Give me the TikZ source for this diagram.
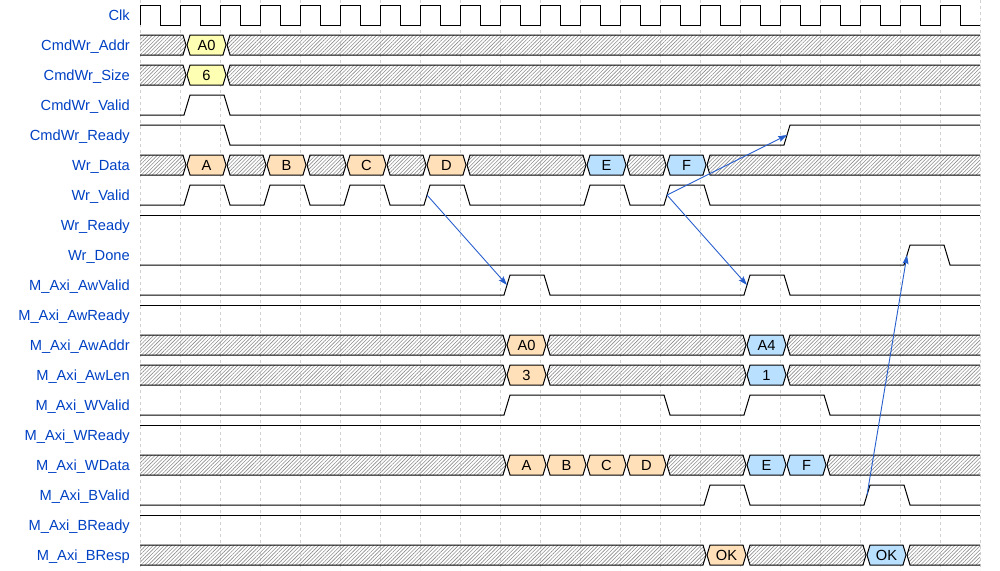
\documentclass[tikz,border=0pt]{standalone}
\usepackage{fontspec}
\setmainfont{Liberation Sans}
\usetikzlibrary{arrows.meta,patterns.meta}

\definecolor{sigblue}{HTML}{0041C4}
\definecolor{datayellow}{HTML}{FFFFB4}
\definecolor{dataorange}{HTML}{FFE0B9}
\definecolor{datablue}{HTML}{B9E0FF}

% bus segment helpers: #1 row centre, #2 start, #3 end
\newcommand{\segends}[2]{%
  \pgfmathsetmacro{\segl}{#1==140 ? 130 : #1+7}%
  \pgfmathsetmacro{\segcl}{#1==140 ? 130 : #1+10}%
  \pgfmathsetmacro{\segcr}{#2==980 ? 990 : #2+3}%
  \pgfmathsetmacro{\segr}{#2==980 ? 990 : #2+6}%
}
\newcommand{\hatchseg}[3]{%
  \segends{#2}{#3}%
  \draw[wave, hatch] (\segl,#1) -- (\segcl,#1-10) -- (\segcr,#1-10) -- (\segr,#1)
    -- (\segcr,#1+10) -- (\segcl,#1+10) -- cycle;
}
\newcommand{\dataseg}[6]{%
  \segends{#2}{#3}%
  \draw[wave, fill=#4] (\segl,#1) -- (\segcl,#1-10) -- (\segcr,#1-10) -- (\segr,#1)
    -- (\segcr,#1+10) -- (\segcl,#1+10) -- cycle;
  \node[datatext] (#5) at ({(\segcl+\segcr)/2},#1+5.3) {#6};
}

\begin{document}
\begin{tikzpicture}[
    x=1pt, y=-1pt,
    signame/.style={anchor=base east, inner sep=0pt, text=sigblue, font=\fontsize{14.67}{16}\selectfont},
    datatext/.style={anchor=base, inner sep=0pt, font=\fontsize{14.67}{16}\selectfont},
    wave/.style={line width=1pt, line join=miter},
    hatch/.style={pattern={Lines[angle=45, distance=2.6pt, line width=0.6pt]}, pattern color=black!45},
    gridline/.style={black!18, dash pattern=on 3pt off 3pt, line width=0.8pt},
    arrow/.style={-{Stealth[length=9pt, width=6pt, inset=1.5pt]}, sigblue!85!white, line width=0.9pt}
]
    \useasboundingbox (0,0) rectangle (1000,570);

    % grid
    \foreach \x in {140,180,...,980}
        \draw[gridline] (\x,0) -- (\x,570);

    % signal names
    \node[signame] (clk) at (130,20.5) {Clk};
    \node[signame] (cmdaddr) at (130,50.5) {CmdWr\_Addr};
    \node[signame] (cmdsize) at (130,80.5) {CmdWr\_Size};
    \node[signame] (cmdvalid) at (130,110.5) {CmdWr\_Valid};
    \node[signame] (cmdready) at (130,140.5) {CmdWr\_Ready};
    \node[signame] (wrdata) at (130,170.5) {Wr\_Data};
    \node[signame] (wrvalid) at (130,200.5) {Wr\_Valid};
    \node[signame] (wrready) at (130,230.5) {Wr\_Ready};
    \node[signame] (wrdone) at (130,260.5) {Wr\_Done};
    \node[signame] (awvalid) at (130,290.5) {M\_Axi\_AwValid};
    \node[signame] (awready) at (130,320.5) {M\_Axi\_AwReady};
    \node[signame] (awaddr) at (130,350.5) {M\_Axi\_AwAddr};
    \node[signame] (awlen) at (130,380.5) {M\_Axi\_AwLen};
    \node[signame] (wvalid) at (130,410.5) {M\_Axi\_WValid};
    \node[signame] (wready) at (130,440.5) {M\_Axi\_WReady};
    \node[signame] (wdata) at (130,470.5) {M\_Axi\_WData};
    \node[signame] (bvalid) at (130,500.5) {M\_Axi\_BValid};
    \node[signame] (bready) at (130,530.5) {M\_Axi\_BReady};
    \node[signame] (bresp) at (130,560.5) {M\_Axi\_BResp};

    % clock
    \draw[wave] (140,25) \foreach \t in {140,180,...,940} { -- (\t,5) -- (\t+20,5) -- (\t+20,25) -- (\t+40,25) };

    % single-bit signals
    \draw[wave] (140,115) -- (184,115) -- (190,95) -- (224,95) -- (230,115) -- (980,115);
    \draw[wave] (140,125) -- (224,125) -- (230,145) -- (784,145) -- (790,125) -- (980,125);
    \draw[wave] (140,205) \foreach \t in {180,260,340,420,580,660} { -- (\t+4,205) -- (\t+10,185) -- (\t+44,185) -- (\t+50,205) } -- (980,205);
    \draw[wave] (140,215) -- (980,215);
    \draw[wave] (140,265) -- (904,265) -- (910,245) -- (944,245) -- (950,265) -- (980,265);
    \draw[wave] (140,295) \foreach \t in {500,740} { -- (\t+4,295) -- (\t+10,275) -- (\t+44,275) -- (\t+50,295) } -- (980,295);
    \draw[wave] (140,305) -- (980,305);
    \draw[wave] (140,415) -- (504,415) -- (510,395) -- (664,395) -- (670,415) -- (744,415) -- (750,395) -- (824,395) -- (830,415) -- (980,415);
    \draw[wave] (140,425) -- (980,425);
    \draw[wave] (140,505) \foreach \t in {700,860} { -- (\t+4,505) -- (\t+10,485) -- (\t+44,485) -- (\t+50,505) } -- (980,505);
    \draw[wave] (140,515) -- (980,515);

    % buses
    \begin{scope}
        \clip (140,0) rectangle (980,570);
        \hatchseg{45}{140}{180}
        \dataseg{45}{180}{220}{datayellow}{addrA0}{A0}
        \hatchseg{45}{220}{980}

        \hatchseg{75}{140}{180}
        \dataseg{75}{180}{220}{datayellow}{size6}{6}
        \hatchseg{75}{220}{980}

        \hatchseg{165}{140}{180}
        \dataseg{165}{180}{220}{dataorange}{wrdataA}{A}
        \hatchseg{165}{220}{260}
        \dataseg{165}{260}{300}{dataorange}{wrdataB}{B}
        \hatchseg{165}{300}{340}
        \dataseg{165}{340}{380}{dataorange}{wrdataC}{C}
        \hatchseg{165}{380}{420}
        \dataseg{165}{420}{460}{dataorange}{wrdataD}{D}
        \hatchseg{165}{460}{580}
        \dataseg{165}{580}{620}{datablue}{wrdataE}{E}
        \hatchseg{165}{620}{660}
        \dataseg{165}{660}{700}{datablue}{wrdataF}{F}
        \hatchseg{165}{700}{980}

        \hatchseg{345}{140}{500}
        \dataseg{345}{500}{540}{dataorange}{awaddrA0}{A0}
        \hatchseg{345}{540}{740}
        \dataseg{345}{740}{780}{datablue}{awaddrA4}{A4}
        \hatchseg{345}{780}{980}

        \hatchseg{375}{140}{500}
        \dataseg{375}{500}{540}{dataorange}{awlen3}{3}
        \hatchseg{375}{540}{740}
        \dataseg{375}{740}{780}{datablue}{awlen1}{1}
        \hatchseg{375}{780}{980}

        \hatchseg{465}{140}{500}
        \dataseg{465}{500}{540}{dataorange}{wdataA}{A}
        \dataseg{465}{540}{580}{dataorange}{wdataB}{B}
        \dataseg{465}{580}{620}{dataorange}{wdataC}{C}
        \dataseg{465}{620}{660}{dataorange}{wdataD}{D}
        \hatchseg{465}{660}{740}
        \dataseg{465}{740}{780}{datablue}{wdataE}{E}
        \dataseg{465}{780}{820}{datablue}{wdataF}{F}
        \hatchseg{465}{820}{980}

        \hatchseg{555}{140}{700}
        \dataseg{555}{700}{740}{dataorange}{brespA}{OK}
        \hatchseg{555}{740}{860}
        \dataseg{555}{860}{900}{datablue}{brespB}{OK}
        \hatchseg{555}{900}{980}
    \end{scope}

    % edge points
    \coordinate (wrvalidD) at (427,195);
    \coordinate (wrvalidF) at (667,195);
    \coordinate (awvalidA) at (507,285);
    \coordinate (awvalidB) at (747,285);
    \coordinate (cmdreadyup) at (787,135);
    \coordinate (bvalidB) at (867,495);
    \coordinate (wrdoneup) at (907,255);

    \draw[arrow] (wrvalidD) -- (awvalidA);
    \draw[arrow] (wrvalidF) -- (cmdreadyup);
    \draw[arrow] (wrvalidF) -- (awvalidB);
    \draw[arrow] (bvalidB) -- (wrdoneup);
\end{tikzpicture}
\end{document}
